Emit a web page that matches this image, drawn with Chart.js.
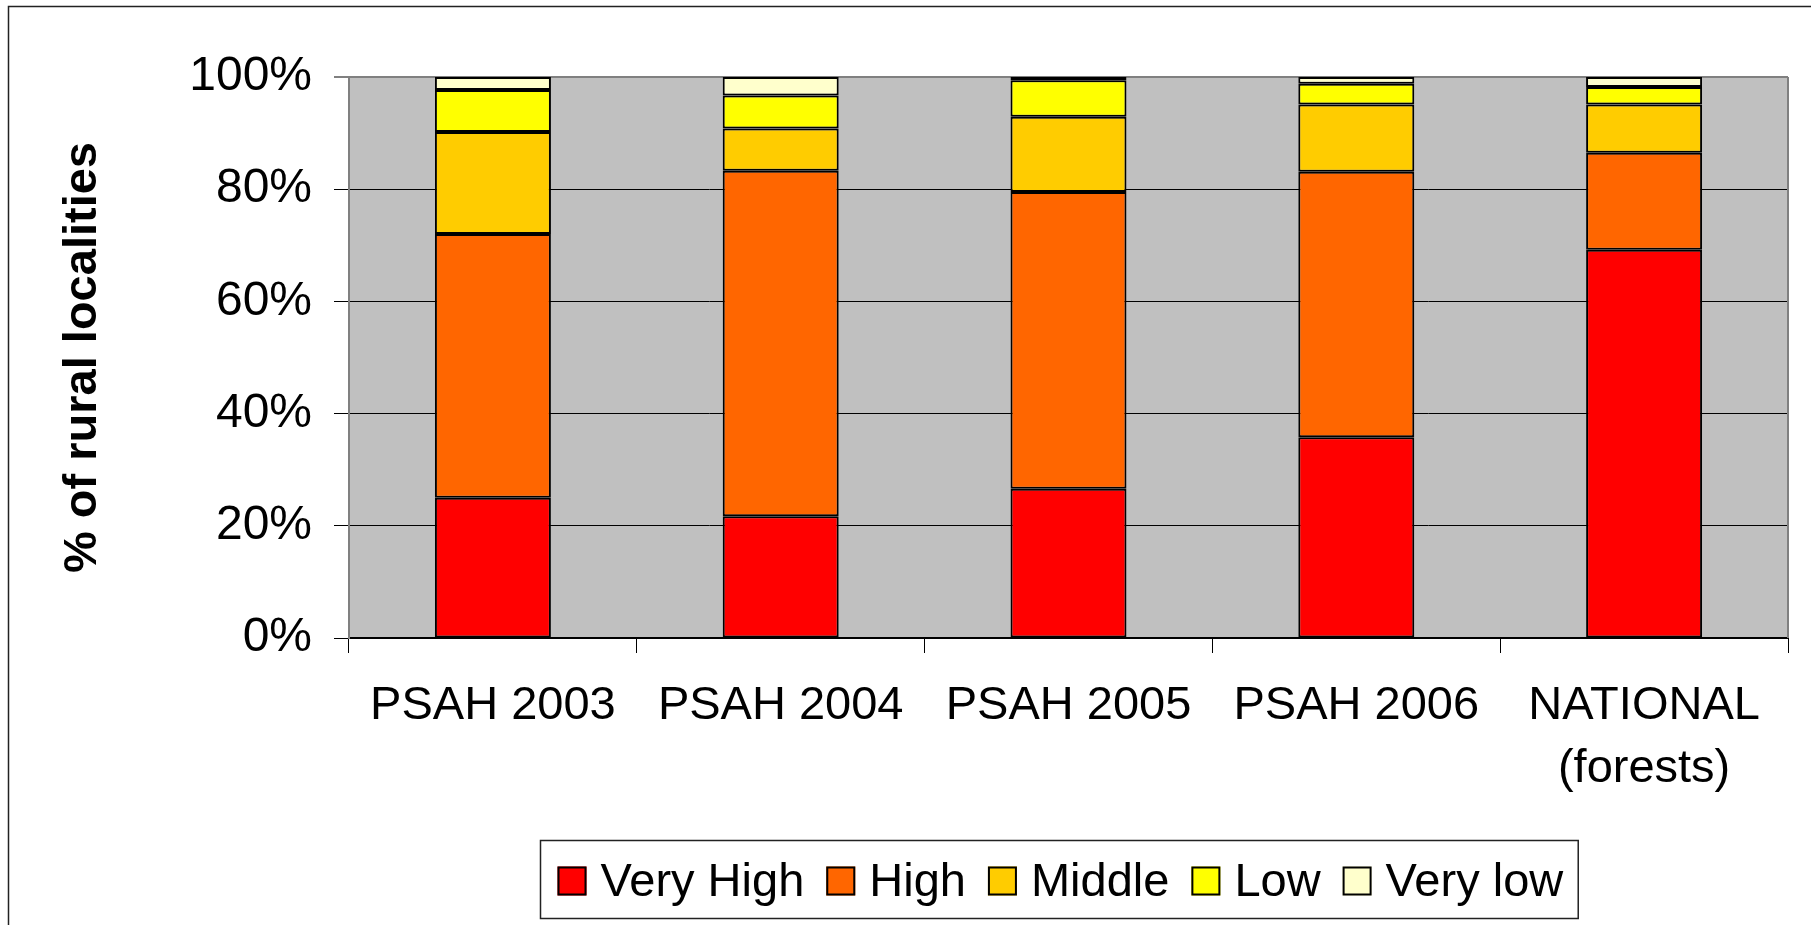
<!DOCTYPE html>
<html>
<head>
<meta charset="utf-8">
<script src="https://cdn.jsdelivr.net/npm/chart.js@4.4.1/dist/chart.umd.min.js"></script>
<style>
  html, body { margin: 0; padding: 0; background: #fff; }
  #wrap { width: 1811px; height: 925px; }
</style>
</head>
<body>
<div id="wrap"><canvas id="c" width="1811" height="925"></canvas></div>
<script>
// Share of rural localities by marginality level (percent of each programme year)
const categories = ['PSAH 2003', 'PSAH 2004', 'PSAH 2005', 'PSAH 2006', ['NATIONAL', '(forests)']];
const veryHigh = [25.0, 21.7, 26.6, 35.8, 69.2];
const high     = [47.0, 61.6, 52.9, 47.3, 17.3];
const middle   = [18.2,  7.5, 13.4, 12.0,  8.6];
const low      = [ 7.5,  5.9,  6.5,  3.7,  3.1];
const veryLow  = [ 2.3,  3.3,  0.6,  1.2,  1.8];
const yTicks   = [0, 20, 40, 60, 80, 100];

const FONT = '"Liberation Sans", Arial, Helvetica, sans-serif';

const series = [
  { label: 'Very High', data: veryHigh, color: '#FF0000' },
  { label: 'High',      data: high,     color: '#FF6600' },
  { label: 'Middle',    data: middle,   color: '#FFCC00' },
  { label: 'Low',       data: low,      color: '#FFFF00' },
  { label: 'Very low',  data: veryLow,  color: '#FFFFCC' }
];

// Grey plot background, white page and a thin frame round the whole figure
const plotFrame = {
  id: 'plotFrame',
  beforeDraw(chart) {
    const { ctx, chartArea: a } = chart;
    ctx.save();
    ctx.fillStyle = '#fff';
    ctx.fillRect(0, 0, chart.width, chart.height);
    ctx.fillStyle = '#C0C0C0';
    ctx.fillRect(a.left, a.top, a.right - a.left, a.bottom - a.top);
    ctx.restore();
  },
  beforeDatasetsDraw(chart) {
    const { ctx, chartArea: a } = chart;
    ctx.save();
    ctx.strokeStyle = '#808080';
    ctx.lineWidth = 2;
    ctx.beginPath();
    ctx.moveTo(a.right, a.top);
    ctx.lineTo(a.right, a.bottom);
    ctx.stroke();
    ctx.restore();
  },
  afterDraw(chart) {
    const ctx = chart.ctx;
    ctx.save();
    ctx.strokeStyle = '#222';
    ctx.lineWidth = 1.5;
    ctx.strokeRect(8.5, 6.5, chart.width + 10, chart.height + 10);
    ctx.restore();
  }
};

// Legend in a framed box below the plot
const boxedLegend = {
  id: 'boxedLegend',
  afterDraw(chart) {
    const ctx = chart.ctx;
    const ds = chart.data.datasets;
    ctx.save();
    ctx.font = '47px ' + FONT;
    const mk = 29, gapIn = 14, gapOut = 22, padL = 17, padR = 15;
    const widths = ds.map(d => ctx.measureText(d.label).width);
    const content = widths.reduce((s, w) => s + mk + gapIn + w, 0) + gapOut * (ds.length - 1);
    const boxW = content + padL + padR;
    const cx = (chart.chartArea.left + chart.chartArea.right) / 2 - 10;
    const x0 = Math.round(cx - boxW / 2) + 0.5;
    const y0 = chart.height - 85 + 0.5;
    const h = 78;
    ctx.strokeStyle = '#222';
    ctx.lineWidth = 1.5;
    ctx.strokeRect(x0, y0, boxW, h);
    let x = x0 + padL;
    const mTop = y0 + 26;
    const base = y0 + 55;
    ds.forEach((d, i) => {
      ctx.fillStyle = d.backgroundColor;
      ctx.fillRect(x, mTop, mk, mk);
      ctx.strokeStyle = '#000';
      ctx.lineWidth = 2;
      ctx.strokeRect(x + 1, mTop + 1, mk - 2, mk - 2);
      ctx.fillStyle = '#000';
      ctx.textBaseline = 'alphabetic';
      ctx.textAlign = 'left';
      ctx.fillText(d.label, x + mk + gapIn, base);
      x += mk + gapIn + widths[i] + gapOut;
    });
    ctx.restore();
  }
};

new Chart(document.getElementById('c'), {
  type: 'bar',
  data: {
    labels: categories,
    datasets: series.map(s => ({
      label: s.label,
      data: s.data,
      backgroundColor: s.color,
      borderColor: '#000',
      borderWidth: 2,
      borderSkipped: false,
      barPercentage: 0.403,
      categoryPercentage: 1.0
    }))
  },
  options: {
    responsive: false,
    devicePixelRatio: 1,
    animation: false,
    layout: { padding: { top: 77, right: 23, bottom: 0, left: 0 } },
    plugins: {
      legend: { display: false },
      tooltip: { enabled: false },
      title: { display: false }
    },
    scales: {
      x: {
        stacked: true,
        grid: {
          drawOnChartArea: false,
          drawTicks: true,
          tickLength: 15,
          color: '#000',
          lineWidth: 1,
          offset: true
        },
        border: { color: '#000', width: 2 },
        ticks: {
          color: '#000',
          font: { family: FONT, size: 47, lineHeight: 1.34 },
          padding: 22,
          maxRotation: 0,
          autoSkip: false
        },
        afterFit(scale) { scale.height = 287; }
      },
      y: {
        stacked: true,
        min: yTicks[0],
        max: yTicks[yTicks.length - 1],
        afterBuildTicks(scale) { scale.ticks = yTicks.map(v => ({ value: v })); },
        ticks: {
          color: '#000',
          font: { family: FONT, size: 48 },
          padding: 22,
          callback: v => v + '%'
        },
        grid: {
          color: c => (c.tick && c.tick.value === 100) ? '#808080' : '#000',
          lineWidth: c => (c.tick && c.tick.value === 100) ? 2 : 1,
          tickLength: 15,
          drawTicks: true
        },
        border: { color: '#808080', width: 2 },
        title: {
          display: true,
          text: '% of rural localities',
          color: '#000',
          font: { family: FONT, size: 47, weight: 'bold', lineHeight: 1.2 },
          padding: { top: 55, bottom: 0 }
        },
        afterFit(scale) { scale.width = 349; }
      }
    }
  },
  plugins: [plotFrame, boxedLegend]
});
</script>
</body>
</html>
